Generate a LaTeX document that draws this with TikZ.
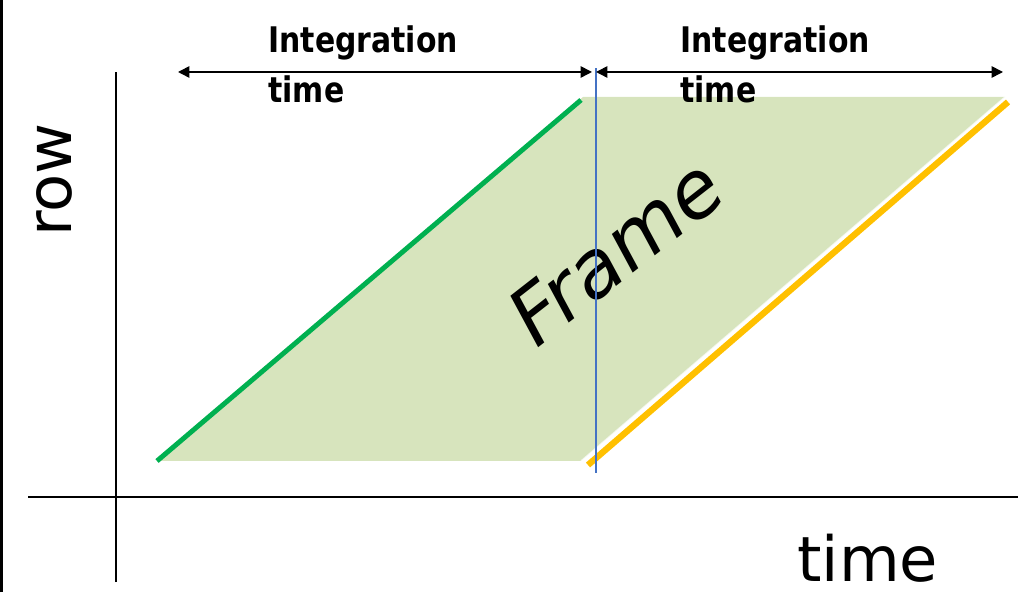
\documentclass[tikz,border=0pt]{standalone}
\usepackage{fontspec}
\setmainfont{DejaVu Sans}
\usetikzlibrary{arrows.meta}
\definecolor{framefill}{HTML}{D7E4BD}
\definecolor{startgreen}{HTML}{00B050}
\definecolor{endyellow}{HTML}{FFC000}
\definecolor{cutblue}{HTML}{4472C4}

\begin{document}
\begin{tikzpicture}[
    axisline/.style={black, line width=1pt},
    spanarrow/.style={black, line width=0.9pt,
      {Triangle[length=6.5pt,width=6.5pt]}-{Triangle[length=6.5pt,width=6.5pt]}},
    spanlabel/.style={anchor=north west, inner sep=0pt, align=left,
      font=\fontsize{17}{24.5}\selectfont\bfseries, yscale=1.18},
    axislabel/.style={inner sep=0pt, font=\fontsize{35.5}{42}\selectfont}
  ]
  \useasboundingbox (0,0) rectangle (20.36,11.84);
  % left edge of the slide
  \draw[line width=1.5pt] (0.03,0) -- (0.03,11.84);

  % the frame: rows start on the green edge, end on the yellow one
  \coordinate (s0) at (3.14,2.62);
  \coordinate (s1) at (11.62,9.84);
  \coordinate (e0) at (11.76,2.54);
  \coordinate (e1) at (20.16,9.8);
  \fill[framefill] (3.14,2.62) -- (11.66,9.9) -- (20.1,9.9) -- (11.62,2.62) -- cycle;
  \draw[white, opacity=0.7, line width=0.8pt] (11.62,2.62) -- (20.1,9.9);
  \draw[startgreen, line width=2.8pt] (s0) -- (s1);
  \draw[endyellow, line width=3.6pt] (e0) -- (e1);
  \node[rotate=38, xslant=0.17, inner sep=0pt, font=\fontsize{45}{50}\selectfont] (frametext) at (12.32,6.82) {Frame};

  % axes
  \coordinate (ytop) at (2.32,10.4);
  \coordinate (ybot) at (2.32,0.2);
  \coordinate (xl) at (0.56,1.9);
  \coordinate (xr) at (20.36,1.9);
  \draw[axisline] (ybot) -- (ytop);
  \draw[axisline] (xl) -- (xr);
  \node[axislabel, rotate=90, anchor=base west] (rowlabel) at (1.42,7.1) {row};
  \node[axislabel, anchor=base west] (timelabel) at (15.94,0.22) {time};

  % cut between the two integration times
  \coordinate (cuttop) at (11.92,10.48);
  \coordinate (cutbot) at (11.92,2.38);
  \draw[cutblue, line width=1.1pt] (cutbot) -- (cuttop);

  % integration time spans
  \coordinate (a0) at (3.56,10.4);
  \coordinate (a1) at (11.84,10.4);
  \coordinate (b0) at (11.92,10.4);
  \coordinate (b1) at (20.06,10.4);
  \draw[spanarrow] (a0) -- (a1);
  \draw[spanarrow] (b0) -- (b1);
  \node[spanlabel] (span1) at (5.36,11.34) {Integration\\time};
  \node[spanlabel] (span2) at (13.6,11.34) {Integration\\time};
\end{tikzpicture}
\end{document}
